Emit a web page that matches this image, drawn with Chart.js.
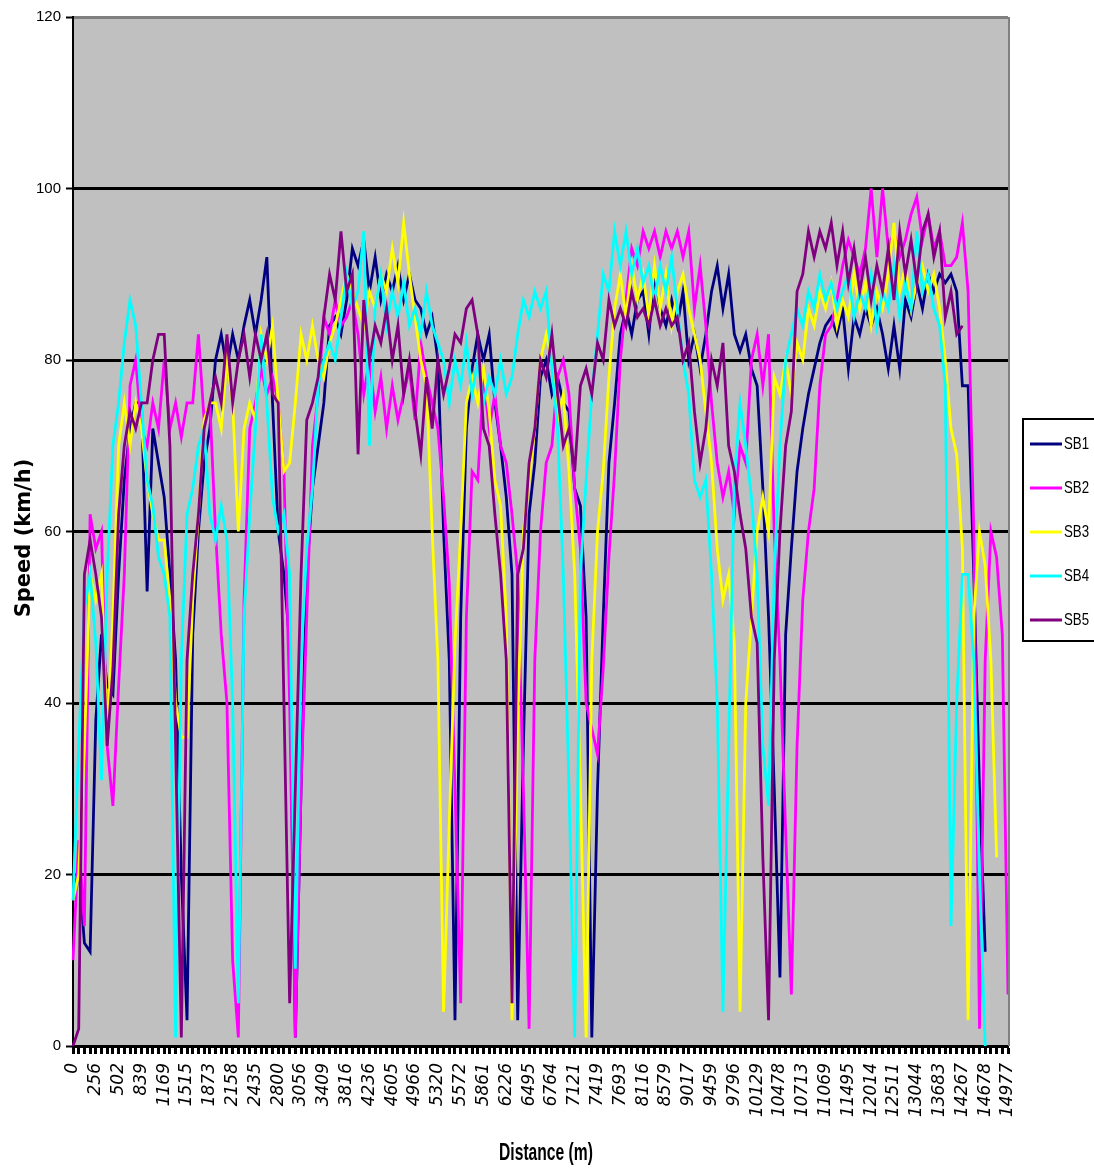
<!DOCTYPE html>
<html>
<head>
<meta charset="utf-8">
<title>Speed vs distance</title>
<script src="https://cdn.jsdelivr.net/npm/chart.js@4.4.1/dist/chart.umd.min.js"></script>
<style>
  html, body { margin: 0; padding: 0; background: #fff; }
  canvas { display: block; }
</style>
</head>
<body>
<canvas id="speed" width="1094" height="1172"></canvas>
<script>
// distance labels shown on the axis (one every 4 samples)
const distLabels = [0, 256, 502, 839, 1169, 1515, 1873, 2158, 2435, 2800, 3056, 3409, 3816, 4236,
  4605, 4966, 5320, 5572, 5861, 6226, 6495, 6764, 7121, 7419, 7693, 8116, 8579, 9017, 9459, 9796,
  10129, 10478, 10713, 11069, 11495, 12014, 12511, 13044, 13683, 14267, 14678, 14977];

const sb1 = [17, 21, 12, 11, 38, 48, 42, 41, 55, 66,
  72, 75, 75, 53, 72, 68, 64, 55, 45, 20,
  3, 48, 60, 68, 72, 80, 83, 79, 83, 80,
  84, 87, 83, 87, 92, 75, 60, 55, 47, 1,
  30, 55, 65, 70, 75, 84, 85, 83, 87, 93,
  91, 94, 88, 92, 87, 90, 88, 91, 87, 90,
  87, 86, 83, 85, 80, 60, 45, 3, 50, 72,
  79, 83, 80, 83, 75, 70, 64, 55, 3, 35,
  62, 68, 78, 80, 76, 78, 75, 74, 65, 63,
  50, 1, 30, 50, 68, 75, 83, 86, 83, 87,
  88, 83, 90, 86, 84, 87, 84, 88, 80, 83,
  79, 83, 88, 91, 86, 90, 83, 81, 83, 79,
  77, 65, 50, 30, 8, 48, 58, 67, 72, 76,
  79, 82, 84, 85, 83, 86, 79, 85, 83, 86,
  84, 86, 83, 79, 84, 79, 87, 85, 89, 86,
  90, 88, 90, 89, 90, 88, 77, 77, 55, 30,
  11, null, null, null, null];

const sb2 = [10, 24, 14, 62, 58, 60, 35, 28, 42, 55,
  77, 80, 72, 70, 75, 72, 80, 72, 75, 71,
  75, 75, 83, 73, 75, 60, 48, 40, 10, 1,
  52, 72, 75, 79, 76, 78, 75, 67, 40, 1,
  30, 50, 70, 76, 85, 83, 87, 84, 85, 87,
  83, 76, 80, 74, 78, 72, 77, 73, 76, 79,
  73, 82, 78, 75, 72, 64, 54, 30, 5, 50,
  67, 66, 78, 72, 76, 70, 68, 62, 55, 30,
  2, 45, 60, 68, 70, 78, 80, 76, 65, 58,
  40, 37, 34, 44, 57, 67, 80, 87, 93, 91,
  95, 93, 95, 92, 95, 93, 95, 92, 95, 86,
  91, 84, 75, 68, 64, 67, 62, 70, 68, 80,
  83, 77, 83, 60, 45, 25, 6, 35, 52, 60,
  65, 77, 83, 84, 87, 91, 94, 92, 90, 93,
  100, 92, 100, 93, 95, 92, 94, 97, 99, 94,
  97, 93, 95, 91, 91, 92, 96, 88, 60, 2,
  45, 60, 57, 48, 6];

const sb3 = [17, 20, 35, 55, 52, 55, 36, 50, 70, 75,
  70, 75, 72, 66, 62, 59, 59, 52, 40, 36,
  36, 52, 62, 73, 75, 75, 72, 80, 75, 60,
  72, 75, 73, 83, 80, 84, 75, 67, 68, 75,
  83, 80, 84, 80, 78, 82, 84, 87, 90, 88,
  86, 84, 88, 86, 90, 88, 93, 89, 96, 90,
  85, 80, 77, 60, 45, 4, 26, 47, 60, 75,
  78, 75, 79, 74, 66, 63, 50, 3, 38, 60,
  66, 72, 80, 83, 80, 73, 76, 67, 55, 30,
  1, 45, 60, 67, 78, 86, 90, 85, 91, 87,
  90, 85, 91, 86, 90, 84, 88, 90, 86, 83,
  80, 74, 68, 58, 52, 55, 47, 4, 40, 50,
  60, 64, 60, 78, 76, 80, 76, 82, 80, 86,
  84, 88, 86, 89, 84, 87, 85, 90, 86, 89,
  84, 88, 86, 90, 96, 88, 91, 86, 89, 91,
  88, 90, 86, 80, 72, 69, 58, 3, 50, 60,
  56, 45, 22, null, null];

const sb4 = [17, 35, 51, 55, 47, 31, 55, 70, 75, 82,
  87, 84, 75, 66, 63, 57, 55, 50, 1, 45,
  62, 65, 70, 72, 62, 59, 63, 59, 40, 5,
  50, 62, 72, 83, 75, 64, 60, 62, 55, 9,
  45, 58, 65, 77, 80, 82, 80, 85, 90, 86,
  88, 95, 70, 86, 90, 84, 88, 85, 89, 84,
  86, 83, 88, 84, 82, 80, 75, 80, 77, 82,
  76, 80, 75, 78, 76, 80, 76, 78, 83, 87,
  85, 88, 86, 88, 79, 72, 55, 30, 1, 55,
  66, 76, 83, 90, 88, 95, 91, 95, 90, 93,
  89, 91, 87, 91, 88, 92, 86, 80, 76, 66,
  64, 66, 55, 40, 4, 35, 66, 75, 70, 64,
  55, 35, 28, 55, 70, 80, 83, 86, 84, 88,
  86, 90, 87, 89, 86, 88, 90, 85, 88, 86,
  90, 84, 88, 86, 91, 85, 89, 86, 95, 88,
  90, 86, 84, 77, 14, 40, 55, 55, 45, 20,
  0, null, null, null, null];

const sb5 = [0, 2, 55, 59, 55, 50, 35, 44, 62, 70,
  74, 72, 75, 75, 80, 83, 83, 70, 35, 1,
  45, 55, 62, 72, 75, 78, 75, 83, 75, 80,
  83, 78, 83, 80, 83, 76, 75, 40, 5, 30,
  55, 73, 75, 78, 85, 90, 87, 95, 88, 90,
  69, 87, 80, 84, 82, 86, 80, 84, 76, 80,
  74, 69, 78, 72, 80, 76, 79, 83, 82, 86,
  87, 83, 72, 70, 62, 55, 45, 5, 55, 58,
  68, 72, 80, 78, 83, 76, 70, 72, 67, 77,
  79, 76, 82, 80, 87, 84, 86, 84, 88, 85,
  86, 84, 87, 84, 86, 84, 85, 80, 82, 74,
  68, 72, 80, 77, 82, 70, 67, 62, 58, 50,
  47, 22, 3, 45, 60, 70, 74, 88, 90, 95,
  92, 95, 93, 96, 91, 95, 89, 93, 88, 92,
  87, 91, 88, 93, 87, 95, 90, 94, 89, 95,
  97, 92, 95, 85, 88, 83, 84, null, null, null,
  null, null, null, null, null];

const seriesNames = ["SB1", "SB2", "SB3", "SB4", "SB5"];
const seriesColors = ["#000080", "#ff00ff", "#ffff00", "#00ffff", "#800080"];
const seriesData = [sb1, sb2, sb3, sb4, sb5];

// one category per sample, only every 4th carries a distance
const nCat = (distLabels.length - 1) * 4 + 1;
const categories = [];
for (let i = 0; i < nCat; i++) {
  categories.push(i % 4 === 0 ? String(distLabels[i / 4]) : "");
}

const arial = "'Liberation Sans', Arial, sans-serif";

// draws text squeezed horizontally, like the narrow font of the original
function narrowText(c, text, x, y, sx) {
  c.save();
  c.translate(x, y);
  c.scale(sx, 1);
  c.fillText(text, 0, 0);
  c.restore();
}

// grey plot area, white page, titles and legend
const backdrop = {
  id: "backdrop",
  beforeDraw(chart) {
    const c = chart.ctx, a = chart.chartArea;
    c.save();
    c.fillStyle = "#fff";
    c.fillRect(0, 0, chart.width, chart.height);
    c.fillStyle = "#c0c0c0";
    c.fillRect(a.left, a.top, a.right - a.left, a.bottom - a.top);
    c.restore();
  },
  afterDraw(chart) {
    const c = chart.ctx, a = chart.chartArea;
    c.save();
    // right frame edge
    c.strokeStyle = "#808080";
    c.lineWidth = 2;
    c.beginPath();
    c.moveTo(a.right + 1, a.top);
    c.lineTo(a.right + 1, a.bottom);
    c.stroke();

    // axis titles
    c.fillStyle = "#000";
    c.textAlign = "center";
    c.textBaseline = "middle";
    c.font = "bold 23px " + arial;
    narrowText(c, "Distance (m)", 546, 1154, 0.68);
    c.translate(25, 538);
    c.rotate(-Math.PI / 2);
    c.font = "bold 21px 'DejaVu Sans', sans-serif";
    c.fillText("Speed (km/h)", 0, 0);
    c.restore();

    // legend box
    c.save();
    c.strokeStyle = "#000";
    c.lineWidth = 2;
    c.strokeRect(1023, 419, 90, 222);
    c.font = "17px " + arial;
    c.textBaseline = "middle";
    c.textAlign = "left";
    chart.data.datasets.forEach((ds, k) => {
      const y = 444 + k * 44;
      c.strokeStyle = ds.borderColor;
      c.lineWidth = 3;
      c.beginPath();
      c.moveTo(1030, y);
      c.lineTo(1062, y);
      c.stroke();
      c.fillStyle = "#000";
      narrowText(c, ds.label, 1064, y, 0.78);
    });
    c.restore();
  }
};

const datasets = seriesNames.map((name, k) => ({
  label: name,
  data: seriesData[k],
  borderColor: seriesColors[k],
  backgroundColor: seriesColors[k],
  borderWidth: 2.8,
  pointRadius: 0,
  tension: 0,
  fill: false,
  order: 5 - k
}));

new Chart(document.getElementById("speed"), {
  type: "line",
  data: { labels: categories, datasets: datasets },
  options: {
    responsive: false,
    animation: false,
    devicePixelRatio: 1,
    layout: { padding: { top: 17, right: 86, left: 0, bottom: 0 } },
    plugins: {
      legend: { display: false },
      tooltip: { enabled: false }
    },
    scales: {
      x: {
        offset: false,
        grid: { drawOnChartArea: false, tickLength: 8, tickColor: "#000", tickWidth: 3 },
        border: { color: "#000", width: 3 },
        ticks: {
          autoSkip: false,
          maxRotation: 90,
          minRotation: 90,
          padding: 9,
          color: "#000",
          font: { family: "'DejaVu Sans', sans-serif", style: "italic", size: 17 }
        },
        afterFit(s) { s.height = 126; }
      },
      y: {
        min: 0,
        max: 120,
        ticks: {
          stepSize: 20,
          padding: 5,
          color: "#000",
          font: { family: arial, size: 15 }
        },
        grid: {
          color: (ctx) => ctx.tick && ctx.tick.value === 120 ? "#808080" : "#000",
          lineWidth: 3,
          tickLength: 7,
          tickColor: "#000",
          tickWidth: 2
        },
        border: { color: "#000", width: 2 },
        afterFit(s) { s.width = 73; }
      }
    }
  },
  plugins: [backdrop]
});
</script>
</body>
</html>
